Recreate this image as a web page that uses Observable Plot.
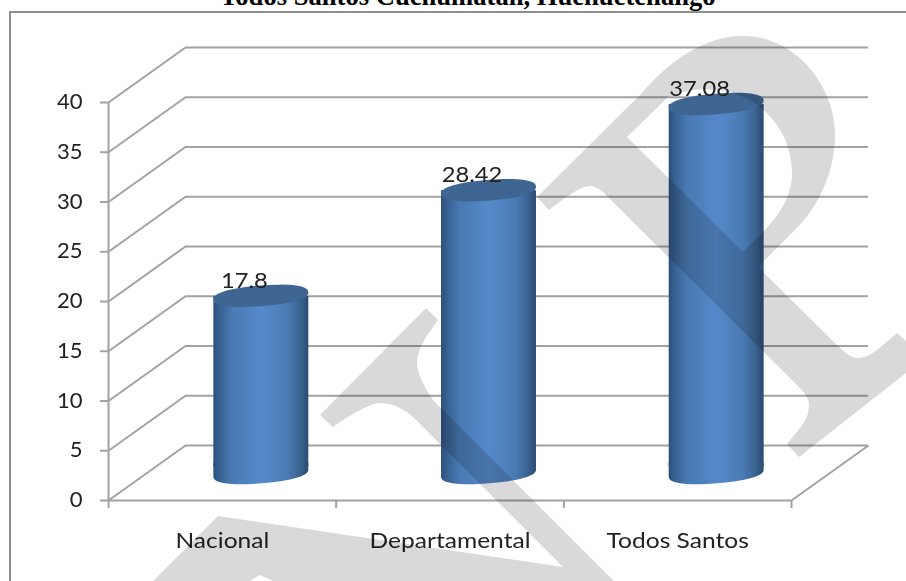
<!DOCTYPE html>
<html>
<head>
<meta charset="utf-8">
<script src="https://cdn.jsdelivr.net/npm/d3@7"></script>
<script src="https://cdn.jsdelivr.net/npm/@observablehq/plot@0.6"></script>
<style>
html,body{margin:0;padding:0;background:#fff;overflow:hidden;width:906px;height:581px}
#chart{position:absolute;left:0;top:0;filter:blur(0.45px)}
#frame{position:absolute;left:8.5px;top:10.5px;width:1000px;height:700px;border-left:2px solid #8e8e8e;border-top:2px solid #8e8e8e;box-sizing:border-box}
#title{position:absolute;left:220px;top:-19px;white-space:nowrap;font:bold 26.6px "Liberation Serif",serif;color:#000;line-height:30px}
</style>
</head>
<body>
<div id="chart"></div>
<div id="frame"></div>
<div id="title">Todos Santos Cuchumatán, Huehuetenango</div>
<script>
const categories = ["Nacional", "Departamental", "Todos Santos"];
const values = [17.8, 28.42, 37.08];
const valueLabels = ["17.8", "28.42", "37.08"];
const yTicks = [0, 5, 10, 15, 20, 25, 30, 35, 40];
const xTicks = [0, 1, 2, 3];
const labelTicks = [0.5, 1.5, 2.5];

// 3D wall offset, in data units of the two scales
const depthX = 77 / 227.67, depthY = 5.53;
const halfWidth = 0.2085;
const rows = categories.map((c, i) => ({c, v: values[i], label: valueLabels[i], x: i + 0.5 + depthX / 2}));

const gridColor = "#a2a2a2", gridWidth = 2;

const A = 47.6, B = 10.3, T = -4.6 * Math.PI / 180, N = 0.86;
const W = halfWidth * 227.67;
const rim = p => {
  const c = Math.cos(p), s = Math.sin(p);
  const ex = A * Math.sign(c) * Math.abs(c) ** N, ey = B * Math.sign(s) * Math.abs(s) ** N;
  const px = ex * Math.cos(T) - ey * Math.sin(T), py = ex * Math.sin(T) + ey * Math.cos(T);
  return [Math.max(-W, Math.min(W, px)), py];
};
const topCap = {
  draw(ctx) {
    for (let k = 0; k < 72; k++) {
      const [px, py] = rim(k / 72 * 2 * Math.PI);
      k ? ctx.lineTo(px, py) : ctx.moveTo(px, py);
    }
    ctx.closePath();
  }
};
// lower half of the rim, closed upward so it joins the straight sides of the body
const bottomCap = {
  draw(ctx) {
    for (let k = 0; k <= 36; k++) {
      const [px, py] = rim(k / 36 * Math.PI);
      k ? ctx.lineTo(px, py) : ctx.moveTo(px, py);
    }
    ctx.lineTo(-W, -10);
    ctx.lineTo(W, -10);
    ctx.closePath();
  }
};

const defsMark = () => {
  const defs = d3.create("svg:defs");
  const g = defs.append("linearGradient").attr("id", "cyl").attr("x1", 0).attr("x2", 1).attr("y1", 0).attr("y2", 0);
  [[0, "#2c4f7c"], [0.06, "#36608f"], [0.2, "#4a7ab4"], [0.5, "#5589ca"], [0.78, "#4b7bb4"], [0.92, "#3a628f"], [1, "#2a4970"]]
    .forEach(([o, c]) => g.append("stop").attr("offset", o).attr("stop-color", c));
  return defs.node();
};

const watermark = () => {
  const paths = [
    "M537,197 L640,95 C670,60 705,36 743,36 C795,36 835,85 835,135 C835,170 820,205 795,230 L758,267 L837,345 C845,352 850,358 858,358 C868,358 878,350 897,333 L925,358 L799,457 L787,444 C800,428 809,420 809,405 C809,397 803,391 797,385 L603,192 C597,187 593,186 590,186 C580,186 565,198 549,210 Z M627,137 L668,97 C685,90 700,88 718,90 C760,95 792,130 792,173 C792,200 775,220 760,235 L743,252 Z",
    "M320,415 L426,308 L438,320 C425,338 417,350 417,363 C417,372 423,385 433,400 L630,597 L300,597 L273,581 L260,575 L250,581 L234,597 L137,597 L218,516 L563,567 L420,424 C410,412 395,403 380,403 C370,403 347,417 333,427 Z"
  ];
  const g = d3.create("svg:g").style("mix-blend-mode", "multiply");
  paths.forEach(d => g.append("path").attr("d", d).attr("fill", "#d9d9d9").attr("fill-rule", "evenodd"));
  return g.node();
};

const chart = Plot.plot({
  width: 906, height: 581,
  marginLeft: 108, marginRight: 115, marginTop: 102, marginBottom: 81,
  x: {type: "linear", domain: [0, 3], axis: null},
  y: {domain: [0, 40], axis: null},
  style: {background: "transparent", fontFamily: "Lato, sans-serif"},
  marks: [
    defsMark,
    // back wall and side wall
    Plot.ruleY(yTicks, {y: d => d + depthY, x1: depthX, x2: 3 + depthX, stroke: gridColor, strokeWidth: gridWidth}),
    Plot.link(yTicks, {x1: 0, y1: d => d, x2: depthX, y2: d => d + depthY, stroke: gridColor, strokeWidth: gridWidth}),
    Plot.link([0], {x1: 3, y1: 0, x2: 3 + depthX, y2: depthY, stroke: gridColor, strokeWidth: gridWidth}),
    Plot.ruleX([0], {y1: 0, y2: 40, stroke: gridColor, strokeWidth: gridWidth}),
    Plot.ruleY([0], {x1: 0, x2: 3, stroke: gridColor, strokeWidth: gridWidth}),
    // axes
    Plot.axisY({ticks: yTicks, tickSize: 8, tickPadding: 18, fontSize: 21, fill: "#222", stroke: gridColor, strokeWidth: gridWidth, label: null, textStroke: "none"}),
    Plot.axisX({ticks: xTicks, tickSize: 8, tickFormat: () => "", stroke: gridColor, strokeWidth: gridWidth, label: null}),
    Plot.axisX({ticks: labelTicks, tickSize: 0, tickPadding: 33, tickFormat: d => categories[Math.floor(d)], fontSize: 21, fill: "#222", label: null}),
    // cylinders
    Plot.dot(rows, {x: "x", y: depthY / 2, symbol: bottomCap, r: 1, fill: "url(#cyl)", stroke: "none"}),
    Plot.rectY(rows, {x1: d => d.x - halfWidth, x2: d => d.x + halfWidth, y1: depthY / 2 + 0.7, y2: d => d.v + depthY / 2, dx: 0.5, dy: 0.5, fill: "url(#cyl)"}),
    Plot.dot(rows, {x: "x", y: d => d.v + depthY / 2, symbol: topCap, r: 1, fill: "#3f6693", stroke: "none"}),
    // value labels
    Plot.text(rows, {x: "x", y: d => d.v + depthY / 2, text: "label", dx: -16.5, dy: -8, lineAnchor: "bottom", fontSize: 21, fill: "#222"}),
    watermark
  ]
});
// the reference's text is horizontally stretched
const stretch = (label, sx) => d3.select(chart).selectAll(`g[aria-label="${label}"] text`)
  .attr("transform", function () { return `${this.getAttribute("transform") || ""} scale(${sx},1)`; });
stretch("x-axis tick label", 1.17);
stretch("y-axis tick label", 1.05);
stretch("text", 1.13);
document.getElementById("chart").append(chart);
</script>
</body>
</html>
